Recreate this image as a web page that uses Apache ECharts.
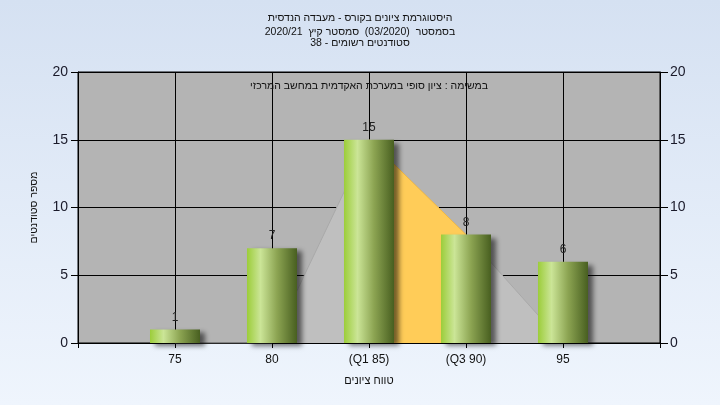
<!DOCTYPE html>
<html><head><meta charset="utf-8">
<script src="https://cdn.jsdelivr.net/npm/echarts@6/dist/echarts.min.js"></script>
<style>html,body{margin:0;padding:0;}#c{width:720px;height:405px;}</style>
</head><body><div id="c"></div>
<script>
var RLM = '\u200F';
function rtl(s){ return RLM + s + RLM; }

var titleLine1 = 'היסטוגרמת ציונים בקורס - מעבדה הנדסית';
var titleLine2 = 'בסמסטר  (03/2020)  סמסטר קיץ  2020/21';
var titleLine3 = 'סטודנטים רשומים - 38';
var subtitle = 'במשימה : ציון סופי במערכת האקדמית במחשב המרכזי';
var yName = 'מספר סטודנטים';
var xName = 'טווח ציונים';

var grades = [75, 80, 85, 90, 95];
var tickLabels = ['75', '80', '(Q1 85)', '(Q3 90)', '95'];
var counts = [1, 7, 15, 8, 6];
var curveX = [75, 80, 85, 90, 95];
var curveY = [0, 0, 15, 8, 0];
var iqrX = [85, 90];
var iqrY = [15, 8];

var font = 'Liberation Sans, Arial';
function ts(size){ return {fontFamily:font,fontSize:size,fontWeight:'normal',color:'#111'}; }

var chart = echarts.init(document.getElementById('c'));
var barGrad = new echarts.graphic.LinearGradient(0,0,1,0,[
  {offset:0,color:'#9ccd3a'},{offset:0.27,color:'#cbe597'},{offset:0.6,color:'#8ca452'},{offset:1,color:'#485f20'}]);
chart.setOption({
  animation:false,
  backgroundColor:new echarts.graphic.LinearGradient(0,0,0,1,[{offset:0,color:'#d5e1f2'},{offset:1,color:'#eff5fd'}]),
  title:[
    {text:rtl(titleLine1), left:'center', top:13, padding:0, textStyle:ts(10.5)},
    {text:rtl(titleLine2), left:'center', top:26.5, padding:0, textStyle:ts(10.5)},
    {text:rtl(titleLine3), left:'center', top:38, padding:0, textStyle:ts(10.5)},
    {text:rtl(subtitle), left:369, top:81, padding:0, textAlign:'center', textStyle:ts(10.5)}
  ],
  grid:{left:78,right:60,top:72,bottom:62,show:true,backgroundColor:'#b4b4b4',borderColor:'#000',borderWidth:1},
  xAxis:{type:'value',min:70,max:100,interval:5,
    name:rtl(xName),nameLocation:'middle',nameGap:32,
    nameTextStyle:ts(11),
    axisLine:{show:true,lineStyle:{color:'#000'}},
    axisTick:{show:true,length:5,lineStyle:{color:'#000'}},
    splitLine:{show:true,lineStyle:{color:'#000',width:1}},
    axisLabel:{margin:11,fontFamily:font,fontSize:12,color:'#111',
      formatter:function(v){var i=grades.indexOf(v);return i<0?'':tickLabels[i];}}
  },
  yAxis:[{type:'value',min:0,max:20,interval:5,
    name:rtl(yName),nameLocation:'middle',nameGap:38,nameRotate:90,
    nameTextStyle:ts(10.5),
    axisLine:{show:true,lineStyle:{color:'#000'}},
    axisTick:{show:true,length:7,lineStyle:{color:'#000'}},
    splitLine:{show:true,lineStyle:{color:'#000',width:1}},
    axisLabel:{margin:10,fontFamily:font,fontSize:14,color:'#1a1a2a'}
  },{type:'value',min:0,max:20,interval:5,position:'right',
    axisLine:{show:true,lineStyle:{color:'#000'}},
    axisTick:{show:true,length:8,lineStyle:{color:'#000'}},
    splitLine:{show:false},
    axisLabel:{margin:10,fontFamily:font,fontSize:14,color:'#1a1a2a'}
  }],
  series:[{
    type:'line',data:curveX.map(function(x,i){return [x,curveY[i]];}),
    symbol:'none',z:1,lineStyle:{color:'#a9a9a9',width:1},
    areaStyle:{color:'#bfbfbf',opacity:1}
  },{
    type:'line',data:iqrX.map(function(x,i){return [x,iqrY[i]];}),
    symbol:'none',z:2,lineStyle:{color:'#f2b944',width:1},
    areaStyle:{color:'#ffcc58',opacity:1}
  },{
    type:'bar',barWidth:50,z:3,
    data:grades.map(function(g,i){return [g,counts[i]];}),
    itemStyle:{color:barGrad,shadowColor:'rgba(0,0,0,0.55)',shadowBlur:5,shadowOffsetX:5,shadowOffsetY:3},
    label:{show:true,position:'top',distance:6,fontFamily:font,fontSize:12,color:'#222',
      formatter:function(p){return p.value[1];}}
  }]
});
</script></body></html>
